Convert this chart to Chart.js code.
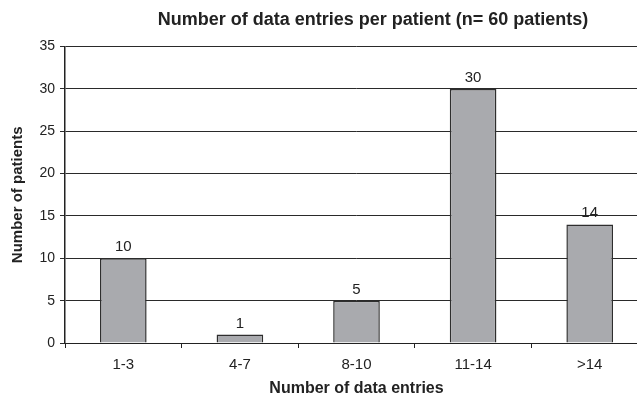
<!DOCTYPE html>
<html>
<head>
<meta charset="utf-8">
<script src="https://cdn.jsdelivr.net/npm/chart.js@4"></script>
<style>
  html, body { margin: 0; padding: 0; background: #fff; overflow: hidden; }
  #wrap { position: relative; width: 746px; height: 397px; }
</style>
</head>
<body>
<div id="wrap"><canvas id="chart"></canvas></div>
<script>
// ── Data ──────────────────────────────────────────────────────────────────
const categories = ['1-3', '4-7', '8-10', '11-14', '>14'];
const patients   = [10, 1, 5, 30, 14];
const yTicks     = [0, 5, 10, 15, 20, 25, 30, 35];

const FONT = 'Liberation Sans, Arial, sans-serif';

// value labels over each bar
const barLabels = {
  id: 'barLabels',
  afterDatasetsDraw(chart) {
    const ctx = chart.ctx;
    const meta = chart.getDatasetMeta(0);
    ctx.save();
    ctx.font = '15px ' + FONT;
    ctx.fillStyle = '#222';
    ctx.textAlign = 'center';
    ctx.textBaseline = 'alphabetic';
    meta.data.forEach((bar, i) => {
      ctx.fillText(String(patients[i]), bar.x, bar.y - 7);
    });
    ctx.restore();
  }
};

new Chart(document.getElementById('chart'), {
  type: 'bar',
  plugins: [barLabels],
  data: {
    labels: categories,
    datasets: [{
      data: patients,
      backgroundColor: '#a9aaae',
      borderColor: '#2e2e2e',
      borderWidth: 1.5,
      barPercentage: 0.4,
      categoryPercentage: 1
    }]
  },
  options: {
    responsive: true, maintainAspectRatio: false, animation: false,
    layout: { padding: { left: 0, right: 0, top: 9, bottom: 0 } },
    plugins: {
      legend: { display: false },
      tooltip: { enabled: false },
      title: {
        display: true,
        text: 'Number of data entries per patient (n= 60 patients)',
        color: '#222',
        font: { family: FONT, size: 18, weight: 'bold' },
        padding: { top: 0, bottom: 16 }
      }
    },
    scales: {
      x: {
        afterFit: axis => { axis.height = 54; },
        grid: { offset: true, drawOnChartArea: false, color: '#222', tickLength: 5 },
        border: { color: '#222', width: 1 },
        ticks: { color: '#222', font: { family: FONT, size: 15 }, padding: 8 },
        title: { display: true, text: 'Number of data entries', color: '#222',
                 font: { family: FONT, size: 16, weight: 'bold', lineHeight: 1 }, padding: { top: 0, bottom: 0 } }
      },
      y: {
        min: 0, max: 35,
        afterBuildTicks: axis => { axis.ticks = yTicks.map(v => ({ value: v })); },
        afterFit: axis => { axis.width = 65; },
        grid: { color: '#2a2a2a', tickLength: 5 },
        border: { color: '#222', width: 1.5 },
        ticks: { color: '#222', font: { family: FONT, size: 14 }, padding: 5 },
        title: { display: true, text: 'Number of patients', color: '#222',
                 font: { family: FONT, size: 15, weight: 'bold', lineHeight: 1 }, padding: { top: 10, bottom: 0 } }
      },
      // empty right-hand band: plot runs past the cropped edge like the original
      yRight: {
        position: 'right', min: 0, max: 35,
        afterFit: axis => { axis.width = 98; },
        grid: { display: false }, border: { display: false },
        ticks: { display: false }
      }
    }
  }
});
</script>
</body>
</html>
